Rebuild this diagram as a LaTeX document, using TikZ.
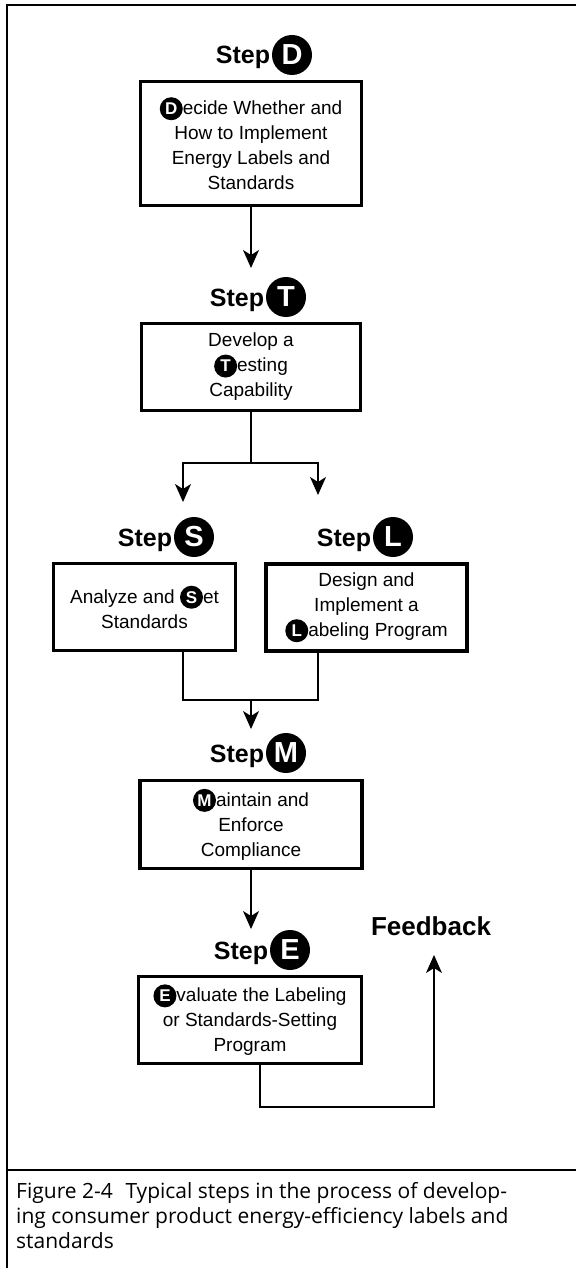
\documentclass[tikz,border=0pt]{standalone}
\usepackage{fontspec}
\setmainfont{Liberation Sans}
\newfontfamily\capfont{Open Sans}
\usetikzlibrary{arrows.meta,positioning}
\newcommand{\bul}[1]{\tikz[baseline=(b.base)]\node[circle,fill=black,text=white,inner sep=0pt,minimum size=23pt,font=\bfseries\fontsize{17}{17}\selectfont] (b) {#1};}
\tikzset{
  box/.style={draw,line width=3.2pt,align=center,font=\fontsize{19}{25}\selectfont,inner sep=0pt},
  ball/.style={circle,fill=black,text=white,inner sep=0pt,minimum size=40pt,font=\bfseries\fontsize{29}{29}\selectfont},
  steptext/.style={font=\bfseries\fontsize{25}{25}\selectfont,inner sep=0pt},
  arr/.style={line width=1.3pt,-{Stealth[length=18pt,width=16pt,inset=5pt]}},
  wire/.style={line width=1.3pt}
}
\begin{document}
\begin{tikzpicture}[x=1pt,y=-1pt]
\useasboundingbox (0,0) rectangle (576,1268);
\draw[line width=2pt] (7,1268) -- (7,5) -- (576,5);
\draw[line width=2.2pt] (7,1170) -- (576,1170);
\foreach \n/\x/\y in {D/292/55,T/286/297,S/194/537,L/393/537,M/286/753,E/290/950} {
  \node[ball] (c\n) at (\x,\y) {\n};
  \node[steptext,anchor=base east] (s\n) at ([xshift=-1.5pt,yshift=-9pt]c\n.west) {Step};
}
\node[box,minimum width=221pt,minimum height=124pt] (bD) at (251,143.5) {\bul{D}ecide Whether and\\How to Implement\\Energy Labels and\\Standards};
\node[box,minimum width=219pt,minimum height=87pt] (bT) at (251,367) {Develop a\\\bul{T}esting\\Capability};
\node[box,minimum width=182pt,minimum height=87pt] (bS) at (144.5,607) {Analyze and \bul{S}et\\Standards};
\node[box,line width=4pt,minimum width=201pt,minimum height=87pt] (bL) at (366.5,607.5) {Design and\\Implement a\\\bul{L}abeling Program};
\node[box,minimum width=222pt,minimum height=88pt] (bM) at (251,824.5) {\bul{M}aintain and\\Enforce\\Compliance};
\node[box,minimum width=223pt,minimum height=87pt] (bE) at (250,1020) {\bul{E}valuate the Labeling\\or Standards-Setting\\Program};
\node[font=\bfseries\fontsize{26}{26}\selectfont,anchor=base,inner sep=0pt] (fb) at (431,935) {Feedback};
\node[anchor=north west,align=left,inner sep=0pt,font=\capfont\fontsize{21}{25}\selectfont] (cap) at (16,1182) {Figure 2-4\hspace{0.6em}Typical steps in the process of develop-\\ing consumer product energy-efficiency labels and\\standards};
\coordinate (aT) at (251,268);
\coordinate (jT) at (251,463);
\coordinate (aS) at (183,502);
\coordinate (aL) at (318,495);
\coordinate (jM) at (251,700);
\coordinate (aM) at (251,729);
\coordinate (aE) at (251,929);
\coordinate (fl) at (260,1107);
\coordinate (fa) at (434,955);
\draw[arr] (bD.south) -- (aT);
\draw[wire] (bT.south) -- (jT);
\draw[arr] (jT) -| (aS);
\draw[arr] (jT) -| (aL);
\draw[wire] (bS.south -| aS) |- (jM);
\draw[wire] (bL.south -| aL) |- (jM);
\draw[arr] (jM) -- (aM);
\draw[arr] (bM.south) -- (aE);
\draw[arr] (bE.south -| fl) -- (fl) -| (fa);
\end{tikzpicture}
\end{document}
